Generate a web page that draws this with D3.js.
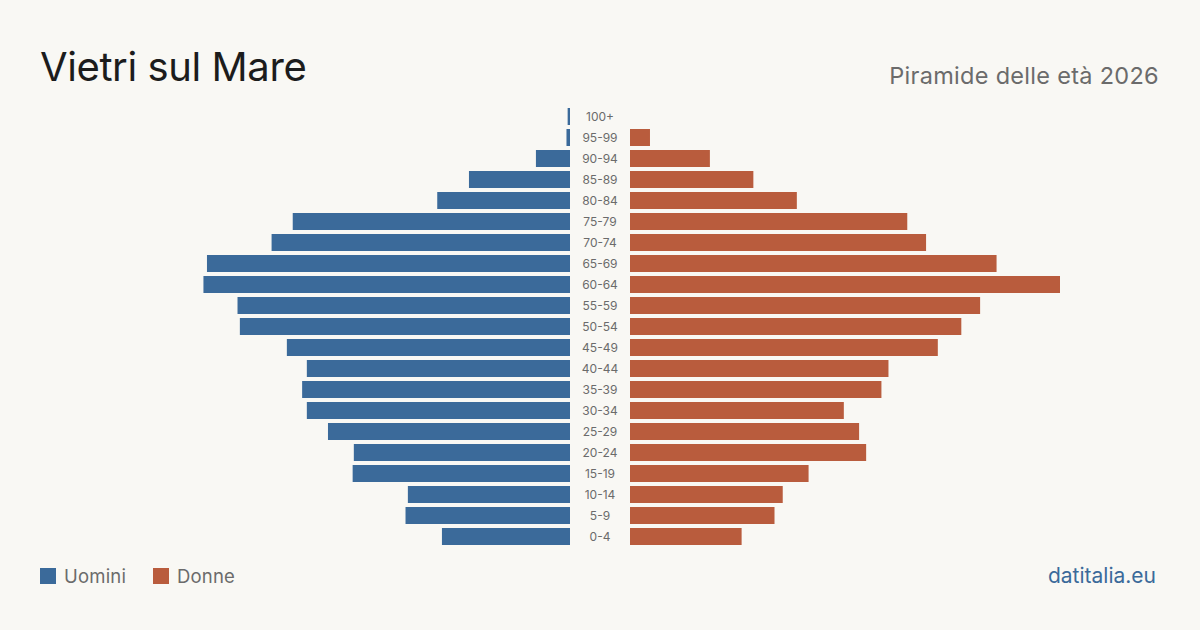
<!DOCTYPE html>
<html lang="it">
  <head>
    <meta charset="UTF-8" />
    <title>Vietri sul Mare - Piramide delle età 2026</title>
    <script src="https://d3js.org/d3.v7.min.js"></script>
    <style>
      body {
        margin: 0;
        background: #f9f8f4;
        font-family: Inter, "Noto Sans", sans-serif;
      }
      svg {
        display: block;
      }
    </style>
  </head>
  <body>
    <svg width="1200" height="630"></svg>
    <script>
      // age groups, top to bottom
      const ageGroups = [
        "100+", "95-99", "90-94", "85-89", "80-84", "75-79", "70-74",
        "65-69", "60-64", "55-59", "50-54", "45-49", "40-44", "35-39",
        "30-34", "25-29", "20-24", "15-19", "10-14", "5-9", "0-4",
      ];
      const men = [
        2, 3, 29, 86, 113, 236, 254, 309, 312, 283, 281, 241, 224, 228,
        224, 206, 184, 185, 138, 140, 109,
      ];
      const women = [
        0, 17, 68, 105, 142, 236, 252, 312, 366, 298, 282, 262, 220, 214,
        182, 195, 201, 152, 130, 123, 95,
      ];
      const seriesNames = ["Uomini", "Donne"];

      const colors = { men: "#3b6a9a", women: "#b95c3d" };
      const svg = d3.select("svg");

      const data = ageGroups.map((age, i) => ({
        age,
        men: men[i],
        women: women[i],
      }));

      const y = d3
        .scaleBand()
        .domain(ageGroups)
        .range([108, 545])
        .paddingInner(4 / 21)
        .paddingOuter(0);

      const maxVal = d3.max(data, (d) => Math.max(d.men, d.women));
      const w = d3.scaleLinear().domain([0, maxVal]).range([0, 430]);

      const menRight = 570;
      const womenLeft = 630;
      const center = 600;

      // men bars
      svg
        .append("g")
        .selectAll("rect")
        .data(data)
        .join("rect")
        .attr("x", (d) => menRight - w(d.men))
        .attr("y", (d) => y(d.age))
        .attr("width", (d) => w(d.men))
        .attr("height", y.bandwidth())
        .attr("fill", colors.men);

      // women bars
      svg
        .append("g")
        .selectAll("rect")
        .data(data)
        .join("rect")
        .attr("x", womenLeft)
        .attr("y", (d) => y(d.age))
        .attr("width", (d) => w(d.women))
        .attr("height", y.bandwidth())
        .attr("fill", colors.women);

      // age labels in the middle
      svg
        .append("g")
        .selectAll("text")
        .data(ageGroups)
        .join("text")
        .attr("x", center)
        .attr("y", (d) => y(d) + y.bandwidth() / 2)
        .attr("dy", "0.35em")
        .attr("text-anchor", "middle")
        .attr("font-size", 12)
        .attr("fill", "#6b6b6b")
        .text((d) => d);

      // title + subtitle
      svg
        .append("text")
        .attr("x", 40)
        .attr("y", 81)
        .attr("font-size", 40)
        .attr("fill", "#1c1c1c")
        .attr("letter-spacing", -0.4)
        .text("Vietri sul Mare");

      svg
        .append("text")
        .attr("x", 1159)
        .attr("y", 84)
        .attr("text-anchor", "end")
        .attr("font-size", 23.5)
        .attr("letter-spacing", 0.3)
        .attr("fill", "#6b6b6b")
        .text("Piramide delle età 2026");

      // legend
      const legend = svg.append("g");
      const legendX = [40, 153];
      const legendColors = [colors.men, colors.women];
      seriesNames.forEach((name, i) => {
        legend
          .append("rect")
          .attr("x", legendX[i])
          .attr("y", 568)
          .attr("width", 16)
          .attr("height", 16)
          .attr("fill", legendColors[i]);
        legend
          .append("text")
          .attr("x", legendX[i] + 24)
          .attr("y", 583)
          .attr("font-size", 18.5)
          .attr("letter-spacing", 0.2)
          .attr("fill", "#6b6b6b")
          .text(name);
      });

      // source
      svg
        .append("text")
        .attr("x", 1156)
        .attr("y", 583)
        .attr("text-anchor", "end")
        .attr("font-size", 21)
        .attr("fill", colors.men)
        .text("datitalia.eu");
    </script>
  </body>
</html>
